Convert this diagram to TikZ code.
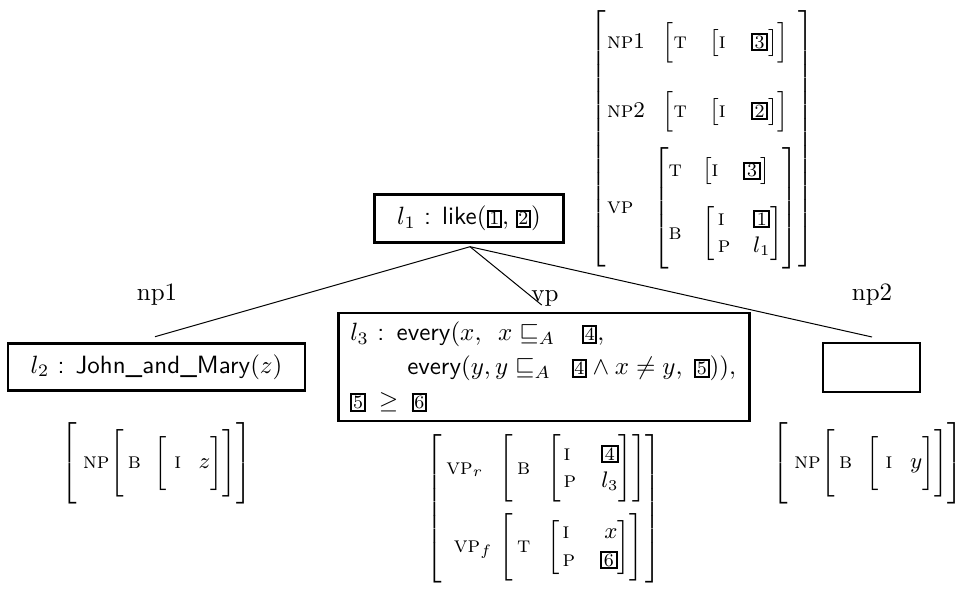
\documentclass[tikz,border=0pt]{standalone}
\usepackage{amssymb}
% tag box in box text
\newcommand{\tg}[1]{{\setlength{\fboxsep}{0.3pt}\setlength{\fboxrule}{0.8pt}\fbox{\fontsize{7.5}{8}\selectfont\rule[-0.2pt]{0pt}{5pt}#1}}}
% tag box in AVMs
\newcommand{\tgb}[1]{{\setlength{\fboxsep}{0.2pt}\setlength{\fboxrule}{0.8pt}\fbox{\fontsize{7.5}{8}\selectfont\hspace{0.5pt}\rule[-0.2pt]{0pt}{4.8pt}#1\hspace{0.5pt}}}}
% \av{left pad}{column gap}{value column}{min height}{rows}
\newcommand{\av}[5]{\left[\kern#1\begin{array}{@{}l@{\hspace{#2}}#3@{}}#5\end{array}\rule[\dimexpr2.5pt-#4/2\relax]{0pt}{#4}\right]}
% row strut centred on the math axis
\newcommand{\rowh}[1]{\rule[\dimexpr2.5pt-#1/2\relax]{0pt}{#1}}
\newcommand{\scap}[1]{\textsc{#1}}
\begin{document}
\begin{tikzpicture}[x=0.4pt,y=-0.4pt,
  lbox/.style={draw,line width=1.1pt,inner xsep=9pt,inner ysep=4.5pt},
  lbl/.style={inner sep=0pt},
  avmnode/.style={inner sep=0pt,font=\small},
  edge/.style={line width=0.4pt}]
\useasboundingbox (0,0) rectangle (960,592);
\node[lbox] (l1) at (469,218.5) {$l_1$ \textsf{:} \textsf{like}$(\tg{1},\hspace{1pt} \tg{2})$};
\node[avmnode] (top) at (702,139) {$\av{0.5pt}{3.3pt}{c}{0pt}{
  \rowh{27.6pt}\scap{np}1 & \av{0pt}{9pt}{l}{17pt}{\scap{t} & \av{0pt}{10pt}{l}{0pt}{\scap{i} & \tgb{3}}}\\
  \rowh{27.6pt}\scap{np}2 & \av{0pt}{9pt}{l}{17pt}{\scap{t} & \av{0pt}{10pt}{l}{0pt}{\scap{i} & \tgb{2}}}\\
  \rowh{49pt}\scap{vp} & \av{0pt}{8pt}{l}{0pt}{\rowh{20pt}\scap{t} & \av{0pt}{10pt}{l}{0pt}{\scap{i} & \tgb{3}}\\
                     \rowh{30pt}\scap{b} & \av{1.5pt}{9pt}{r}{0pt}{\scap{i} & \tgb{1}\\ \scap{p} & l_1}}}$};
\node[lbl] (np1) at (157,295) {np1};
\node[lbl] (vp) at (545,298) {vp};
\node[lbl] (np2) at (872,295) {np2};
\node[lbox] (l2) at (156.5,367) {$l_2$ \textsf{:} \textsf{John\_and\_Mary}$(z)$};
\node[lbox,align=left,text width=155pt,inner xsep=4.8pt,inner ysep=3.6pt] (l3) at (544,367) {$l_3$ \textsf{:} \textsf{every}$(x,\hspace{5pt} x \sqsubseteq_A\hspace{8pt} \tg{4},$\\[1.6pt]
\hspace{22.8pt}\textsf{every}$(y, y \sqsubseteq_A\hspace{5.5pt}\tg{4} \wedge x \neq y,\hspace{3pt} \tg{5})),$\\[1.6pt]
$\tg{5}\hspace{2.5pt} \geq\hspace{2.5pt} \tg{6}$};
\node[lbox,minimum width=38.8pt,minimum height=19.6pt,inner sep=0pt] (e) at (871.5,367.5) {};
\node[avmnode] (a2) at (156.5,462.5) {$\av{2.5pt}{0.5pt}{l}{33pt}{\scap{np} & \av{1.5pt}{5.5pt}{l}{26pt}{\scap{b} & \av{3pt}{7pt}{l}{19pt}{\scap{i} & z}}}$};
\node[avmnode] (a3) at (868,462.5) {$\av{2.5pt}{0.5pt}{l}{33pt}{\scap{np} & \av{1.5pt}{5.5pt}{l}{26pt}{\scap{b} & \av{3pt}{7pt}{l}{19pt}{\scap{i} & y}}}$};
\node[avmnode] (a1) at (543.5,509) {$\av{2pt}{3pt}{l}{0pt}{
  \rowh{30pt}\scap{vp}_r & \av{1.5pt}{7pt}{l}{28pt}{\scap{b} & \av{1pt}{10pt}{r}{24pt}{\scap{i} & \tgb{4}\\ \scap{p} & l_3}}\\
  \rowh{33pt}\kern3pt\scap{vp}_f & \av{1.5pt}{7pt}{l}{25pt}{\scap{t} & \av{1pt}{10pt}{r}{0pt}{\scap{i} & x\\ \scap{p} & \tgb{6}}}}$};
\coordinate (apex) at (470,246.7);
\coordinate (c1) at (155,336.7);
\coordinate (c2) at (541.7,305);
\coordinate (c3) at (872,337);
\draw[edge] (apex) -- (c1);
\draw[edge] (apex) -- (c2);
\draw[edge] (apex) -- (c3);
\end{tikzpicture}
\end{document}
